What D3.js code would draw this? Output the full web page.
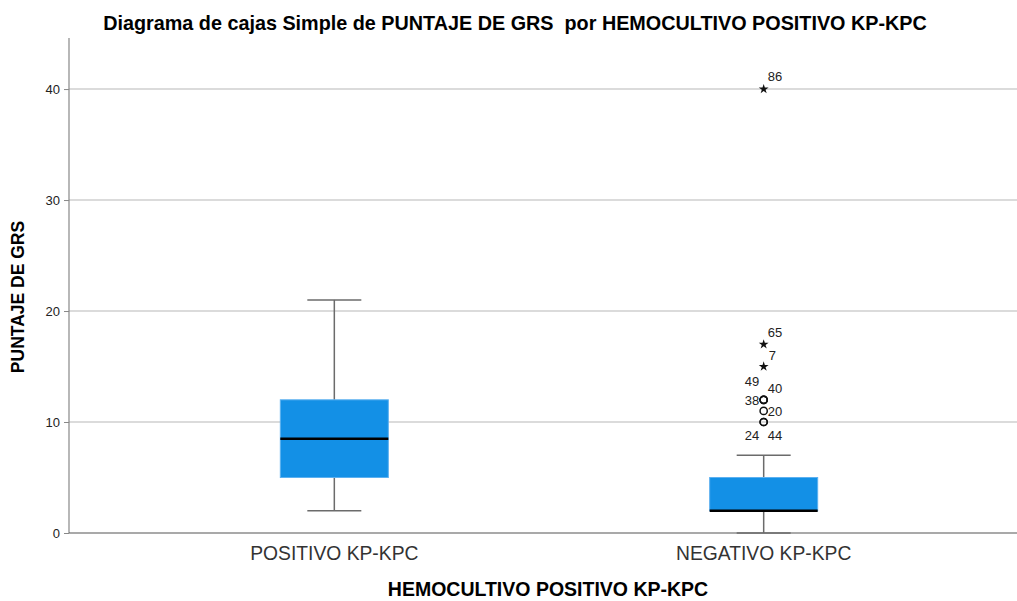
<!DOCTYPE html>
<html><head><meta charset="utf-8">
<script src="https://cdn.jsdelivr.net/npm/d3@7"></script>
<style>body{margin:0;background:#fff}svg{display:block}text{font-family:"Liberation Sans",Arial,sans-serif}</style>
</head><body><svg id="c" width="1017" height="601"></svg>
<script>
const categories = ["POSITIVO KP-KPC", "NEGATIVO KP-KPC"];
const whiskerLow = [2, 0];
const q1 = [5, 2];
const median = [8.5, 2];
const q3 = [12, 5];
const whiskerHigh = [21, 7];
const yTicks = [0, 10, 20, 30, 40];
// outliers of NEGATIVO group: value, case label, kind
const outlierCategory = [1, 1, 1, 1, 1, 1, 1, 1, 1];
const outlierValue = [40, 17, 15, 12, 12, 12, 11, 10, 10];
const outlierLabel = ["86", "65", "7", "49", "40", "38", "20", "24", "44"];
const outlierKind = ["star", "star", "star", "circle", "circle", "circle", "circle", "circle", "circle"];
// label placement (annotation layout)
const labelDx = [4, 4, 5, -19, 4, -19, 4, -19, 4];
const labelDy = [-8, -7, -7, -14, -7, 5, 5, 18, 18];

const svg = d3.select("#c");
const m = {l: 69, r: 1017, t: 38, b: 533};
const y = d3.scaleLinear().domain([0, 44.6]).range([m.b, m.t]);
const x = d3.scalePoint().domain(categories).range([m.l + 12, m.r]).padding(0.59);
const boxW = 108;

// title
svg.append("text").attr("x", 515).attr("y", 30).attr("text-anchor", "middle")
  .attr("font-size", 19.8).attr("font-weight", "bold").attr("fill", "#000")
  .attr("xml:space", "preserve")
  .text("Diagrama de cajas Simple de PUNTAJE DE GRS  por HEMOCULTIVO POSITIVO KP-KPC");

// grid
svg.append("g").selectAll("line").data(yTicks.filter(d => d > 0)).join("line")
  .attr("x1", m.l).attr("x2", m.r).attr("y1", d => y(d)).attr("y2", d => y(d))
  .attr("stroke", "#cfcfcf").attr("stroke-width", 1.5);

// y axis
const ya = svg.append("g").attr("transform", `translate(${m.l},0)`)
  .call(d3.axisLeft(y).tickValues(yTicks).tickSize(5).tickPadding(4).tickFormat(d3.format("d")));
ya.select(".domain").attr("stroke", "#888").attr("stroke-width", 1.2).attr("d", `M-0,${m.t}V${m.b}`);
ya.selectAll(".tick line").attr("stroke", "#888");
ya.selectAll(".tick text").attr("font-size", 13).attr("fill", "#222").attr("font-family", '"Liberation Sans",Arial,sans-serif');

// x axis line
svg.append("line").attr("x1", m.l).attr("x2", m.r).attr("y1", m.b).attr("y2", m.b)
  .attr("stroke", "#555").attr("stroke-width", 1.2);

// boxes
const g = svg.append("g");
categories.forEach((c, i) => {
  const X = x(c);
  g.append("line").attr("x1", X).attr("x2", X).attr("y1", y(whiskerLow[i])).attr("y2", y(q1[i]))
    .attr("stroke", "#6b6b6b").attr("stroke-width", 1.5);
  g.append("line").attr("x1", X).attr("x2", X).attr("y1", y(q3[i])).attr("y2", y(whiskerHigh[i]))
    .attr("stroke", "#6b6b6b").attr("stroke-width", 1.5);
  [whiskerLow[i], whiskerHigh[i]].forEach(v => {
    g.append("line").attr("x1", X - 27).attr("x2", X + 27).attr("y1", y(v)).attr("y2", y(v))
      .attr("stroke", "#6b6b6b").attr("stroke-width", 1.5);
  });
  g.append("rect").attr("x", X - boxW / 2).attr("width", boxW)
    .attr("y", y(q3[i])).attr("height", y(q1[i]) - y(q3[i]))
    .attr("fill", "#1390e6").attr("stroke", "#5cb0f0").attr("stroke-width", 1);
  g.append("line").attr("x1", X - boxW / 2).attr("x2", X + boxW / 2)
    .attr("y1", y(median[i])).attr("y2", y(median[i]))
    .attr("stroke", "#000").attr("stroke-width", 2.5);
  svg.append("text").attr("x", X).attr("y", 560).attr("text-anchor", "middle")
    .attr("font-size", 19.3).attr("fill", "#333").text(c);
});

// outliers
outlierValue.forEach((v, i) => {
  const X = x(categories[outlierCategory[i]]);
  const Y = y(v);
  if (outlierKind[i] === "star") {
    g.append("path").attr("d", d3.symbol(d3.symbolStar, 30)())
      .attr("transform", `translate(${X},${Y})`).attr("fill", "#111");
  } else {
    g.append("circle").attr("cx", X).attr("cy", Y).attr("r", 3.6)
      .attr("fill", "none").attr("stroke", "#111").attr("stroke-width", 1.5);
  }
  g.append("text").attr("x", X + labelDx[i]).attr("y", Y + labelDy[i])
    .attr("font-size", 13).attr("fill", "#222").text(outlierLabel[i]);
});

// axis titles
svg.append("text").attr("transform", "translate(24,297) rotate(-90)").attr("text-anchor", "middle")
  .attr("font-size", 17.5).attr("font-weight", "bold").attr("fill", "#000").text("PUNTAJE DE GRS");
svg.append("text").attr("x", 548).attr("y", 596).attr("text-anchor", "middle")
  .attr("font-size", 19.5).attr("font-weight", "bold").attr("fill", "#000").text("HEMOCULTIVO POSITIVO KP-KPC");
</script></body></html>
